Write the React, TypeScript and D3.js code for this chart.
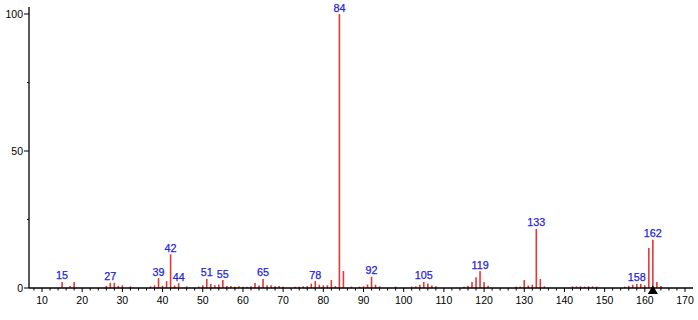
import React from "react";
import * as d3 from "d3";

const mzValues = [15,17,18,26,27,28,29,30,32,37,38,39,40,41,42,43,44,46,49,50,51,52,53,54,55,56,57,58,59,60,61,62,63,64,65,66,67,68,69,70,73,74,75,76,77,78,79,80,81,82,83,84,85,87,89,90,91,92,93,94,98,102,103,104,105,106,107,108,115,116,117,118,119,120,121,128,129,130,131,132,133,134,135,142,143,144,145,146,147,148,155,156,157,158,159,160,161,162,163,164];
const intensities = [2.2,0.7,2.2,0.8,1.9,1.9,0.8,1.0,0.6,0.6,1.0,3.6,0.8,2.5,12.3,0.9,1.8,0.6,0.5,1.0,3.3,1.5,1.0,1.3,2.9,0.7,0.7,0.5,0.6,0.5,0.5,0.6,1.8,0.9,3.3,1.0,1.0,0.6,0.7,0.5,0.5,0.5,0.6,0.7,1.6,2.5,1.2,1.0,1.0,2.9,0.7,100,6.2,0.5,0.5,0.6,1.3,4.1,1.2,0.6,0.5,0.5,0.6,1.2,2.2,1.6,0.9,0.6,0.5,0.8,2.2,3.9,6.2,2.2,0.8,0.5,0.5,2.9,0.9,1.2,21.6,3.3,0.6,0.6,0.6,0.6,0.5,0.6,0.6,0.5,0.5,0.8,1.2,1.5,1.5,1.0,14.6,17.6,2.2,0.7];
const labeledPeaks = [15,27,39,42,44,51,55,65,78,84,92,105,119,133,158,162];
const xTickLabels = [10,20,30,40,50,60,70,80,90,100,110,120,130,140,150,160,170];
const yTickLabels = [0,50,100];
const yMinorTicks = [25,75];
const molecularIon = 162;

export default function App() {
  const W = 698, H = 320;
  const x = d3.scaleLinear().domain([10, 170]).range([42, 685]);
  const y = d3.scaleLinear().domain([0, 100]).range([288, 14]);
  const axisX0 = 29, axisX1 = 693, axisTop = 7;
  const base = y(0);
  const font = "'Liberation Sans', Arial, Helvetica, sans-serif";
  const minorX = d3.range(8, 173, 2).filter((v) => v % 10 !== 0 && x(v) > axisX0 && x(v) < axisX1);
  const peaks = mzValues.map((m, i) => ({ m, v: intensities[i] }));
  const tri = d3.symbol().type(d3.symbolTriangle).size(44);

  return (
    <svg width={W} height={H} style={{ position: "absolute", left: 0, top: 0, background: "#fff" }}>
      {peaks.map((p) => (
        <line key={p.m} x1={x(p.m)} x2={x(p.m)} y1={base} y2={y(p.v)} stroke="#e43838" strokeWidth={1.6} />
      ))}
      {peaks.filter((p) => labeledPeaks.includes(p.m)).map((p) => (
        <text key={"l" + p.m} x={x(p.m)} y={y(p.v) - 2.5} textAnchor="middle" fontFamily={font} fontSize={10.8} fill="#2424dc" stroke="#2424dc" strokeWidth={0.25}>
          {p.m}
        </text>
      ))}
      <line x1={axisX0} x2={axisX0} y1={axisTop} y2={base} stroke="#000" strokeWidth={1.3} />
      <line x1={axisX0} x2={axisX1} y1={base} y2={base} stroke="#000" strokeWidth={1.3} />
      {yTickLabels.map((t) => (
        <g key={"y" + t}>
          <line x1={axisX0 - 5} x2={axisX0} y1={y(t)} y2={y(t)} stroke="#000" strokeWidth={1} />
          <text x={axisX0 - 6} y={y(t)} dy="0.35em" textAnchor="end" fontFamily={font} fontSize={10.5} fill="#000">{t}</text>
        </g>
      ))}
      {yMinorTicks.map((t) => (
        <line key={"ym" + t} x1={axisX0 - 2} x2={axisX0} y1={y(t)} y2={y(t)} stroke="#000" strokeWidth={1} />
      ))}
      {xTickLabels.map((t) => (
        <g key={"x" + t}>
          <line x1={x(t)} x2={x(t)} y1={base} y2={base + 4} stroke="#000" strokeWidth={1} />
          <text x={x(t)} y={base + 12} dy="0.35em" textAnchor="middle" fontFamily={font} fontSize={10.5} fill="#000">{t}</text>
        </g>
      ))}
      {minorX.map((t) => (
        <line key={"xm" + t} x1={x(t)} x2={x(t)} y1={base} y2={base + 2.5} stroke="#000" strokeWidth={1} />
      ))}
      <path d={tri() || ""} transform={`translate(${x(molecularIon)},${base + 3})`} fill="#000" />
    </svg>
  );
}
